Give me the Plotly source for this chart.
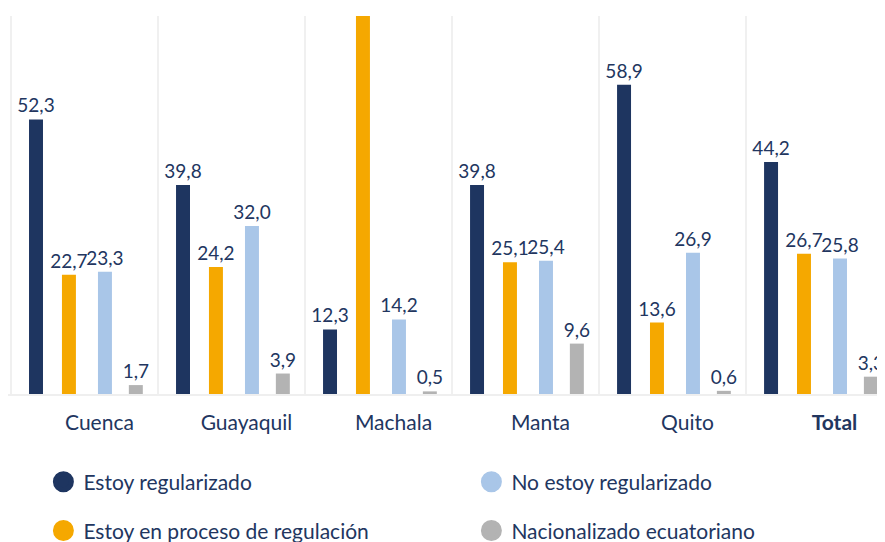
import plotly.graph_objects as go

categories = ["Cuenca", "Guayaquil", "Machala", "Manta", "Quito", "Total"]
tick_labels = ["Cuenca", "Guayaquil", "Machala", "Manta", "Quito", "<b>Total</b>"]
series_names = [
    "Estoy regularizado",
    "Estoy en proceso de regulación",
    "No estoy regularizado",
    "Nacionalizado ecuatoriano",
]
regularizado = [52.3, 39.8, 12.3, 39.8, 58.9, 44.2]
en_proceso = [22.7, 24.2, 73.0, 25.1, 13.6, 26.7]
no_regularizado = [23.3, 32.0, 14.2, 25.4, 26.9, 25.8]
nacionalizado = [1.7, 3.9, 0.5, 9.6, 0.6, 3.3]

series_values = [regularizado, en_proceso, no_regularizado, nacionalizado]
colors = ["#1e3560", "#f5a800", "#a9c6e8", "#b3b3b3"]
legend_ids = ["legend", "legend2", "legend", "legend2"]
# position of each series' bar inside its category (category units) and bar width
bar_offsets = [-0.377, -0.153, 0.092, 0.302]
bar_width = 0.095
navy = "#22365f"
FONT = "Lato"
Y_MAX = 72

fig = go.Figure()
for name, vals, col, off in zip(series_names, series_values, colors, bar_offsets):
    labels = [f"{v:.1f}".replace(".", ",") if v <= Y_MAX else "" for v in vals]
    fig.add_trace(go.Bar(
        x=categories, y=vals, name=name,
        marker=dict(color=col, line=dict(width=8, color="rgba(0,0,0,0)")),
        offset=off, width=bar_width,
        text=labels, textposition="outside",
        textfont=dict(family=FONT, size=19, color=navy),
        constraintext="none", cliponaxis=True, showlegend=False,
        hoverinfo="skip",
    ))

# legend entries with round markers
for name, col, lg in zip(series_names, colors, legend_ids):
    fig.add_trace(go.Scatter(
        x=[None], y=[None], mode="markers", name=name,
        marker=dict(symbol="circle", size=16, color=col, line=dict(color=col, width=5)),
        legend=lg, showlegend=True,
    ))

legend_common = dict(
    orientation="h", x=0.04, xanchor="left", yanchor="middle",
    entrywidth=383, entrywidthmode="pixels",
    font=dict(family=FONT, size=21, color=navy),
    bgcolor="rgba(0,0,0,0)", borderwidth=0,
)

fig.update_layout(
    width=885, height=542,
    margin=dict(l=0, r=0, t=8, b=156, autoexpand=False),
    paper_bgcolor="white", plot_bgcolor="white",
    barmode="overlay",
    separators=", ",
    font=dict(family=FONT, color=navy),
    legend=dict(legend_common, y=-0.233),
    legend2=dict(legend_common, y=-0.362),
    xaxis=dict(
        type="category", categoryorder="array", categoryarray=categories,
        tickmode="array", tickvals=categories, ticktext=tick_labels,
        range=[-0.52, 5.5], tickson="boundaries",
        showgrid=True, gridcolor="#f0f0f0", gridwidth=2,
        showline=True, linecolor="#efefef", linewidth=2,
        ticks="", ticklabelstandoff=9, ticklabelshift=15,
        tickfont=dict(family=FONT, size=21, color=navy),
        zeroline=False,
    ),
    yaxis=dict(
        range=[0, Y_MAX], showgrid=False, zeroline=False, showticklabels=False,
        showline=False,
    ),
)

fig.write_html("out.html")
